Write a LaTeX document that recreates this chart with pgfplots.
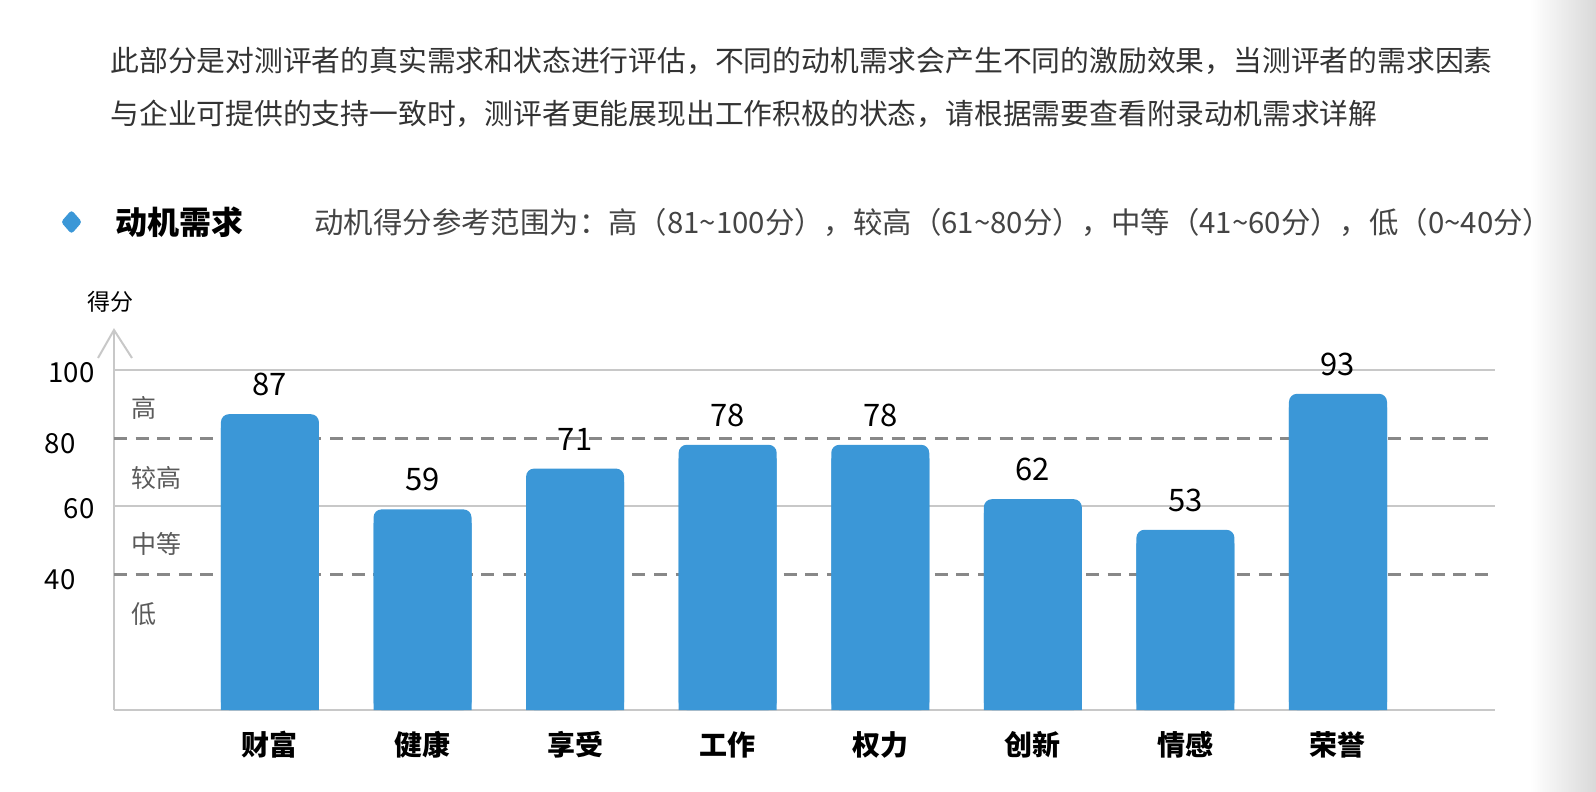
\documentclass[border=0pt]{standalone}
\usepackage{fontspec}
\setmainfont{Noto Sans CJK SC}
\usepackage{pgfplots}
\pgfplotsset{compat=1.18}
\usepackage{pgfplotstable}
\definecolor{barblue}{RGB}{59,151,215}
\definecolor{txtgray}{RGB}{51,51,51}
\definecolor{rangegray}{RGB}{68,68,68}
\definecolor{zonegray}{RGB}{90,90,90}
\definecolor{gridgray}{RGB}{200,200,200}
\definecolor{dashgray}{RGB}{136,136,136}
\pgfplotstableread{
x v
0 87
1 59
2 71
3 78
4 78
5 62
6 53
7 93
}\scores
\begin{document}
\begin{tikzpicture}
\begin{scope}[x=0.5pt,y=-0.5pt]
\path[use as bounding box] (0,0) rectangle (1596,792);
\shade[left color=white,right color=black!15] (1530,0) rectangle (1596,792);
\node[anchor=west,inner sep=0pt,text=txtgray,font=\fontsize{14.4}{14.4}\selectfont] at (110,61) {此部分是对测评者的真实需求和状态进行评估，不同的动机需求会产生不同的激励效果，当测评者的需求因素};
\node[anchor=west,inner sep=0pt,text=txtgray,font=\fontsize{14.4}{14.4}\selectfont] at (110,114) {与企业可提供的支持一致时，测评者更能展现出工作积极的状态，请根据需要查看附录动机需求详解};
\fill[barblue,rounded corners=1.5pt] (61,222)--(71.5,210)--(82,222)--(71.5,234)--cycle;
\node[anchor=west,inner sep=0pt,font=\bfseries\fontsize{16}{16}\selectfont] at (115,222) {动机需求};
\node[anchor=west,inner sep=0pt,text=rangegray,font=\fontsize{14.7}{14.7}\selectfont] at (314,222) {动机得分参考范围为：高（81\textasciitilde100分），较高（61\textasciitilde80分），中等（41\textasciitilde60分），低（0\textasciitilde40分）};
\node[inner sep=0pt,font=\fontsize{11.5}{11.5}\selectfont] at (110.5,302) {得分};
\draw[gridgray,line width=1pt] (114,710)--(1495,710);
\draw[gridgray,line width=1pt] (114,710)--(114,330);
\draw[gridgray,line width=1pt] (98,358)--(114,330)--(132,358);
\foreach \t/\yy in {高/408,较高/478,中等/544,低/614}
  \node[anchor=west,inner sep=0pt,text=zonegray,font=\fontsize{12.5}{12.5}\selectfont] at (131,\yy) {\t};
\end{scope}
\begin{axis}[
  at={(57pt,-355pt)}, anchor=south west,
  scale only axis, width=690.5pt, height=170pt,
  xmin=-1.022, xmax=8.029, ymin=0, ymax=100,
  axis line style={draw=none},
  major tick length=0pt,
  /pgf/number format/assume math mode=true,
  xtick=data,
  xticklabels={财富,健康,享受,工作,权力,创新,情感,荣誉},
  xticklabel style={font=\bfseries\fontsize{14}{14}\selectfont, anchor=center, inner sep=0pt, yshift=-17.5pt},
  ytick={60,100},
  extra y ticks={40,80},
  yticklabel style={font=\fontsize{13.8}{13.8}\selectfont, anchor=east, inner sep=0pt, xshift=-9.5pt, yshift=-1.5pt},
  ymajorgrids,
  major grid style={gridgray, line width=1pt},
  extra y tick style={grid=major, major grid style={dashgray, line width=1.5pt, dash pattern=on 6.5pt off 4.3pt}, yticklabel style={font=\fontsize{13.8}{13.8}\selectfont, anchor=east, inner sep=0pt, xshift=-9.5pt, yshift=-1.5pt}},
  clip=false,
]
\addplot[ybar, bar width=49pt, bar shift=0pt, fill=barblue, draw=none, rounded corners=4pt,
  nodes near coords,
  every node near coord/.append style={font=\fontsize{15.5}{15.5}\selectfont, text=black, anchor=south, inner sep=0pt, yshift=9pt, rounded corners=0pt}]
  table[x=x,y=v]{\scores};
\addplot[ybar, bar width=49pt, bar shift=0pt, fill=barblue, draw=none]
  table[x=x,y expr=\thisrow{v}-4]{\scores};
\end{axis}
\end{tikzpicture}
\end{document}
